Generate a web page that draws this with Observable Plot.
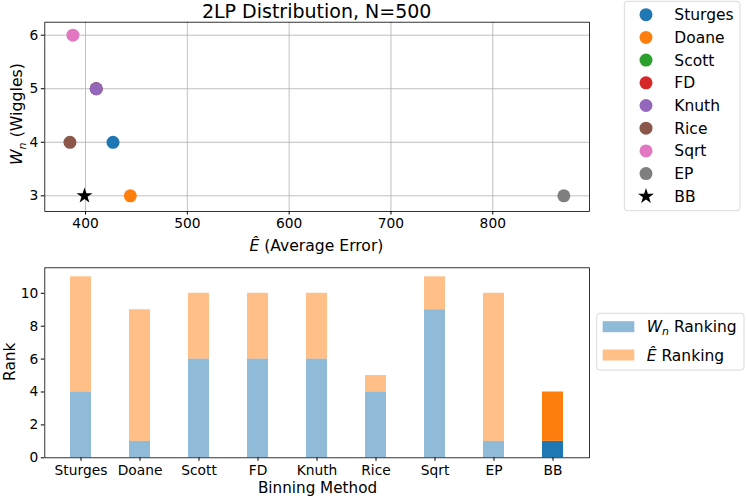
<!DOCTYPE html>
<html><head><meta charset="utf-8">
<script src="https://cdn.jsdelivr.net/npm/d3@7"></script>
<script src="https://cdn.jsdelivr.net/npm/@observablehq/plot@0.6"></script>
<style>
body{margin:0;background:#fff;font-family:"DejaVu Sans";}
#c{position:relative;width:747px;height:498px;overflow:hidden;background:#fff;}
#c svg{position:absolute;}
</style></head><body><div id="c"></div>
<script>
// ---- data ----
const methods = ["Sturges","Doane","Scott","FD","Knuth","Rice","Sqrt","EP","BB"];
const colors = ["#1f77b4","#ff7f0e","#2ca02c","#d62728","#9467bd","#8c564b","#e377c2","#7f7f7f","#000000"];
const avgError = [427, 444, 410.5, 410.5, 410.5, 384.7, 387.6, 869.8, 399];
const wiggles = [4, 3, 5, 5, 5, 4, 6, 3, 3];
const wnRank = [4, 1, 6, 6, 6, 4, 9, 1, 1];
const eRank = [7, 8, 4, 4, 4, 1, 2, 9, 3];
const xTicksTop = [400, 500, 600, 700, 800];
const yTicksTop = [3, 4, 5, 6];
const yTicksBottom = [0, 2, 4, 6, 8, 10];
const seriesNames = ["Wn", "E"];
const seriesColors = ["#1f77b4", "#ff7f0e"];

const FONT = "DejaVu Sans";
const c = document.getElementById("c");

// ---- top scatter ----
const scatter = methods.map((m, i) => ({method: m, e: avgError[i], w: wiggles[i]}));
const topPlot = Plot.plot({
  width: 600, height: 250,
  marginLeft: 44.3, marginRight: 11, marginTop: 21.7, marginBottom: 39,
  style: {fontFamily: FONT, fontSize: "13.8px", background: "transparent", color: "#000", overflow: "visible"},
  x: {domain: [360, 895], ticks: xTicksTop, tickFormat: "d", tickSize: 3.5, tickPadding: 3.5, label: null},
  y: {domain: [2.707, 6.243], ticks: yTicksTop, tickFormat: "d", tickSize: 3.5, tickPadding: 3, label: null},
  color: {domain: methods, range: colors},
  marks: [
    Plot.gridX(xTicksTop, {stroke: "#b0b0b0", strokeOpacity: 1, strokeWidth: 0.8}),
    Plot.gridY(yTicksTop, {stroke: "#b0b0b0", strokeOpacity: 1, strokeWidth: 0.8}),
    Plot.dot(scatter.filter(d => d.method !== "BB"), {x: "e", y: "w", fill: "method", r: 6.5}),
    Plot.dot(scatter.filter(d => d.method === "BB"), {x: "e", y: "w", fill: "method", symbol: "star", r: 5}),
    Plot.frame({stroke: "#000", strokeWidth: 0.8})
  ]
});
topPlot.style.left = "0px"; topPlot.style.top = "0px";
c.appendChild(topPlot);

// ---- bottom stacked bars ----
const bars = [];
methods.forEach((m, i) => {
  bars.push({method: m, series: "Wn", lo: 0, hi: wnRank[i]});
  bars.push({method: m, series: "E", lo: wnRank[i], hi: wnRank[i] + eRank[i]});
});
const botPlot = Plot.plot({
  width: 600, height: 243,
  marginLeft: 44.3, marginRight: 11, marginTop: 12.3, marginBottom: 40.7,
  style: {fontFamily: FONT, fontSize: "13.8px", background: "transparent", color: "#000", overflow: "visible"},
  x: {type: "band", domain: methods, paddingInner: 0.65, paddingOuter: 0.4175, tickSize: 3.5, tickPadding: 3.5, label: null},
  y: {domain: [0, 11.55], ticks: yTicksBottom, tickFormat: "d", tickSize: 3.5, tickPadding: 3, label: null},
  color: {domain: seriesNames, range: seriesColors},
  marks: [
    Plot.barY(bars.filter(d => d.method !== "BB"), {x: "method", y1: "lo", y2: "hi", fill: "series", fillOpacity: 0.5}),
    Plot.barY(bars.filter(d => d.method === "BB"), {x: "method", y1: "lo", y2: "hi", fill: "series", fillOpacity: 1}),
    Plot.frame({stroke: "#000", strokeWidth: 0.8})
  ]
});
botPlot.style.left = "0px"; botPlot.style.top = "255px";
c.appendChild(botPlot);

// ---- overlay: titles, labels, legends ----
const ov = d3.select(c).append("svg")
  .attr("width", 747).attr("height", 498)
  .style("left", "0px").style("top", "0px")
  .attr("font-family", FONT).style("pointer-events", "none");

ov.append("text").attr("x", 316.7).attr("y", 18.3).attr("text-anchor", "middle")
  .attr("font-size", 19).text("2LP Distribution, N=500");

// top x label
const tx = ov.append("text").attr("x", 316.4).attr("y", 251.3).attr("text-anchor", "middle").attr("font-size", 15.6);
tx.append("tspan").attr("font-style", "italic").text("Ê");
tx.append("tspan").text(" (Average Error)");

// top y label
const ty = ov.append("text").attr("transform", "translate(22,114) rotate(-90)").attr("text-anchor", "middle").attr("font-size", 15.8);
ty.append("tspan").attr("font-style", "italic").text("W");
ty.append("tspan").attr("font-style", "italic").attr("font-size", 11).attr("dy", 3.5).text("n");
ty.append("tspan").attr("dy", -3.5).text(" (Wiggles)");

// bottom labels
ov.append("text").attr("transform", "translate(15,361.7) rotate(-90)").attr("text-anchor", "middle")
  .attr("font-size", 15.4).text("Rank");
ov.append("text").attr("x", 317.5).attr("y", 492.6).attr("text-anchor", "middle")
  .attr("font-size", 15.2).text("Binning Method");

// top legend
ov.append("rect").attr("x", 624.3).attr("y", 1.3).attr("width", 115.7).attr("height", 209.4)
  .attr("rx", 3).attr("fill", "#fff").attr("stroke", "#d9d9d9").attr("stroke-width", 1);
methods.forEach((m, i) => {
  const y = 14.7 + 22.7 * i;
  if (m === "BB") {
    ov.append("path").attr("transform", `translate(646,${y})`)
      .attr("d", d3.symbol(d3.symbolStar, Math.PI * 25)()).attr("fill", colors[i]);
  } else {
    ov.append("circle").attr("cx", 646).attr("cy", y).attr("r", 6.5).attr("fill", colors[i]);
  }
  ov.append("text").attr("x", 674.3).attr("y", y).attr("dy", "0.36em").attr("font-size", 15.5).text(m);
});

// bottom legend
ov.append("rect").attr("x", 596.7).attr("y", 313.3).attr("width", 147.3).attr("height", 56.7)
  .attr("rx", 3).attr("fill", "#fff").attr("stroke", "#d9d9d9").attr("stroke-width", 1);
seriesNames.forEach((s, i) => {
  const y = 326.7 + 28.3 * i;
  ov.append("rect").attr("x", 602.7).attr("y", y - 5.5).attr("width", 31.6).attr("height", 11)
    .attr("fill", seriesColors[i]).attr("fill-opacity", 0.5);
  const t = ov.append("text").attr("x", 646.7).attr("y", y).attr("dy", "0.36em").attr("font-size", 15.5);
  if (s === "Wn") {
    t.append("tspan").attr("font-style", "italic").text("W");
    t.append("tspan").attr("font-style", "italic").attr("font-size", 11).attr("dy", 3).text("n");
    t.append("tspan").attr("dy", -3).text(" Ranking");
  } else {
    t.append("tspan").attr("font-style", "italic").text("Ê");
    t.append("tspan").text(" Ranking");
  }
});
</script></body></html>
